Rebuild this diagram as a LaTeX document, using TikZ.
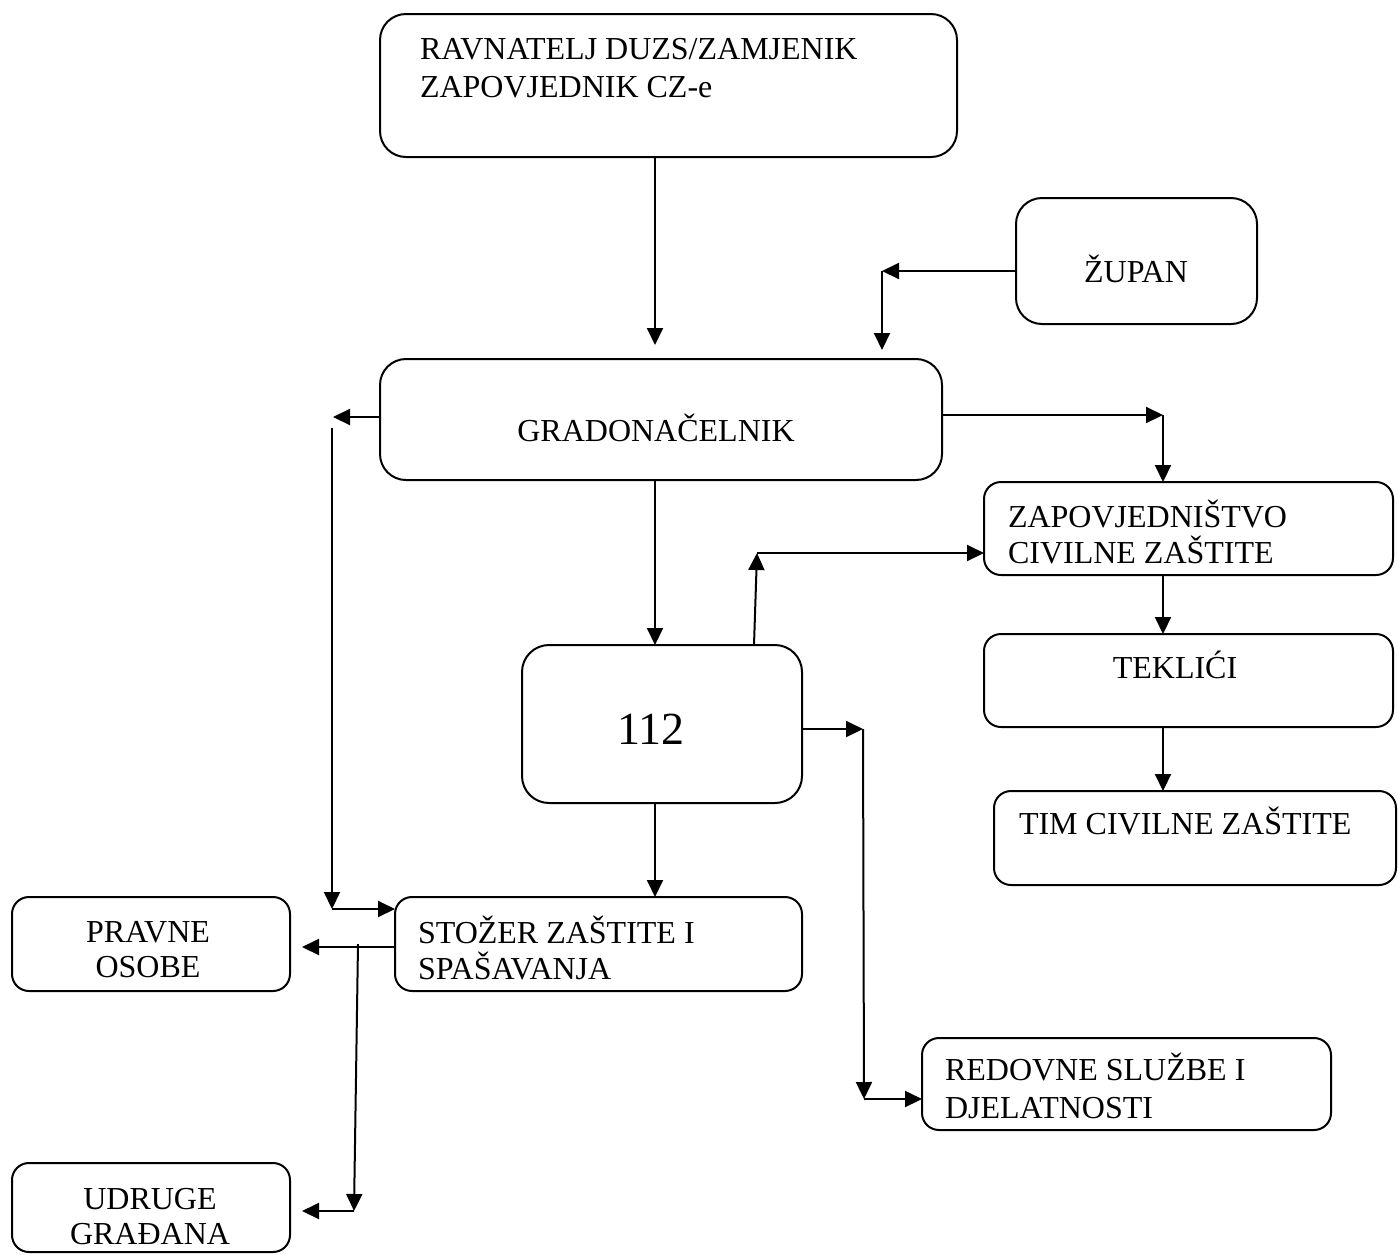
\documentclass[tikz,border=0pt]{standalone}
\usepackage{fontspec}
\setmainfont{Liberation Serif}
\usetikzlibrary{arrows.meta}
\begin{document}
\begin{tikzpicture}[x=1pt,y=-1pt,
  box/.style={draw,line width=2pt,inner sep=0pt,outer sep=0pt,rounded corners=17pt},
  bigbox/.style={box,rounded corners=26pt},
  txt/.style={inner sep=0pt,outer sep=0pt,font=\fontsize{32pt}{38pt}\selectfont},
  arr/.style={line width=2pt,-{Triangle[length=17pt,width=16pt]}}]
\useasboundingbox (0,0) rectangle (1398,1254);
% boxes
\node[bigbox,minimum width=577pt,minimum height=143pt] (ravn) at (668.5,85.5) {};
\node[bigbox,minimum width=241pt,minimum height=126pt] (zupan) at (1136.5,261) {};
\node[bigbox,minimum width=562pt,minimum height=121pt] (grad) at (661,419.5) {};
\node[box,minimum width=409pt,minimum height=93pt] (zap) at (1188.5,528.5) {};
\node[box,minimum width=409pt,minimum height=93pt] (tek) at (1188.5,680.5) {};
\node[box,minimum width=402pt,minimum height=94pt] (tim) at (1195,838) {};
\node[bigbox,rounded corners=27pt,minimum width=280pt,minimum height=158pt] (b112) at (662,724) {};
\node[box,minimum width=407pt,minimum height=94pt] (stozer) at (598.5,944) {};
\node[box,minimum width=278pt,minimum height=94pt] (pravne) at (151,944) {};
\node[box,minimum width=409pt,minimum height=92pt] (redovne) at (1126.5,1084) {};
\node[box,minimum width=278pt,minimum height=89pt] (udruge) at (151,1207.5) {};
% texts
\node[txt,anchor=base west] (ravnA) at (420,59) {RAVNATELJ DUZS/ZAMJENIK};
\node[txt,anchor=base west] (ravnB) at (420,97) {ZAPOVJEDNIK CZ-e};
\node[txt,anchor=base] (zupanT) at (1136,282) {ŽUPAN};
\node[txt,anchor=base] (gradT) at (656,441) {GRADONAČELNIK};
\node[txt,anchor=base west] (zapA) at (1008,527) {ZAPOVJEDNIŠTVO};
\node[txt,anchor=base west] (zapB) at (1008,563) {CIVILNE ZAŠTITE};
\node[txt,anchor=base] (tekT) at (1175,678) {TEKLIĆI};
\node[txt,anchor=base west] (timT) at (1019,834) {TIM CIVILNE ZAŠTITE};
\node[txt,anchor=base,font=\fontsize{46pt}{52pt}\selectfont] (b112T) at (651,744) {112};
\node[txt,anchor=base west] (stozerA) at (418,943) {STOŽER ZAŠTITE I};
\node[txt,anchor=base west] (stozerB) at (418,979) {SPAŠAVANJA};
\node[txt,anchor=base] (pravneA) at (148,942) {PRAVNE};
\node[txt,anchor=base] (pravneB) at (148,977) {OSOBE};
\node[txt,anchor=base west] (redovneA) at (945,1080) {REDOVNE SLUŽBE I};
\node[txt,anchor=base west] (redovneB) at (945,1118) {DJELATNOSTI};
\node[txt,anchor=base] (udrugeA) at (150,1209) {UDRUGE};
\node[txt,anchor=base] (udrugeB) at (150,1244) {GRAĐANA};
% coordinates
\coordinate (mid) at (655,0);
\coordinate (rv) at (655,345);
\coordinate (zb) at (882,271);
\coordinate (zt) at (882,350);
\coordinate (gr) at (1163,415);
\coordinate (gl) at (333,417);
\coordinate (gl2) at (332,428);
\coordinate (gb) at (332,909);
\coordinate (ux) at (754,0);
\coordinate (ut) at (757,553);
\coordinate (rr) at (863,729);
\coordinate (rb) at (864,1099);
\coordinate (sl) at (302,947);
\coordinate (vt) at (358,944);
\coordinate (vb) at (354,1211);
\coordinate (ul) at (302,1211);
% connectors
\draw[arr] (rv |- ravn.south) -- (rv);
\draw[arr] (zupan.west |- zb) -- (zb);
\draw[arr] (zb) -- (zt);
\draw[arr] (grad.east |- gr) -- (gr);
\draw[arr] (gr) -- (gr |- zap.north);
\draw[arr] (gr |- zap.south) -- (gr |- tek.north);
\draw[arr] (gr |- tek.south) -- (gr |- tim.north);
\draw[arr] (grad.west |- gl) -- (gl);
\draw[arr] (gl2) -- (gb);
\draw[arr] (gb) -- (stozer.west |- gb);
\draw[arr] (mid |- grad.south) -- (mid |- b112.north);
\draw[arr] (ux |- b112.north) -- (ut);
\draw[arr] (ut) -- (zap.west |- ut);
\draw[arr] (b112.east |- rr) -- (rr);
\draw[arr] (rr) -- (rb);
\draw[arr] (rb) -- (redovne.west |- rb);
\draw[arr] (mid |- b112.south) -- (mid |- stozer.north);
\draw[arr] (stozer.west |- sl) -- (sl);
\draw[arr] (vt) -- (vb);
\draw[arr] (vb) -- (ul);
\end{tikzpicture}
\end{document}
